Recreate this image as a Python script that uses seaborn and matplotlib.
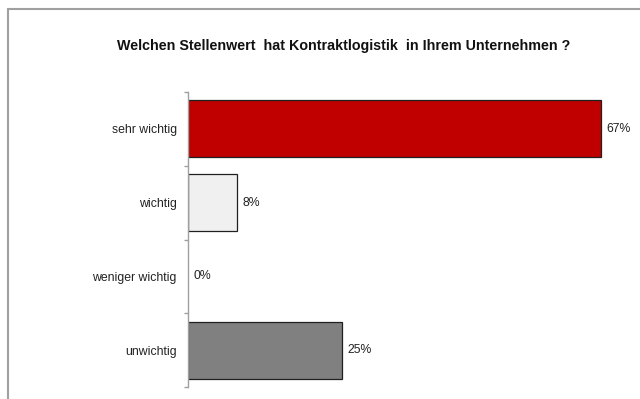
import matplotlib
matplotlib.use("Agg")
import matplotlib.pyplot as plt
from matplotlib.lines import Line2D
import seaborn as sns
import pandas as pd
import numpy as np

categories = ["sehr wichtig", "wichtig", "weniger wichtig", "unwichtig"]
values = [67, 8, 0, 25]
bar_colors = ["#C00000", "#F0F0F0", "#FFFFFF", "#808080"]
title = "Welchen Stellenwert  hat Kontraktlogistik  in Ihrem Unternehmen ?"

sns.set_theme(style="white")
plt.rcParams["font.family"] = ["Liberation Sans", "DejaVu Sans"]

df = pd.DataFrame({"Kategorie": categories, "Anteil": values})

fig = plt.figure(figsize=(6.4, 3.99), dpi=100)
ax = fig.add_axes([188 / 640, 1 - 387 / 399, 444 / 640, 295 / 399])

sns.barplot(data=df, y="Kategorie", x="Anteil", hue="Kategorie",
            palette=bar_colors, order=categories, orient="h",
            width=0.77, edgecolor="#202020", linewidth=0.9,
            saturation=1, legend=False, ax=ax)

# zero-length bars carry no outline
for patch, v in zip(ax.patches, values):
    if v == 0:
        patch.set_linewidth(0)

ax.set_xlim(0, 72)
ax.set_ylim(len(categories) - 0.5, -0.5)

for i, v in enumerate(values):
    ax.text(v + 0.9, i, f"{v}%", va="center", ha="left",
            fontsize=8.8, color="#222222")

ax.set_xlabel("")
ax.set_ylabel("")
ax.set_xticks([])
ax.tick_params(axis="y", which="major", left=False, length=0, pad=8,
               labelsize=8.8, labelcolor="#222222")
ax.set_yticks(np.arange(-0.5, len(categories)), minor=True)
ax.tick_params(axis="y", which="minor", left=True, length=3, width=1,
               color="#A0A0A0", direction="out")

for side in ["top", "right", "bottom"]:
    ax.spines[side].set_visible(False)
ax.spines["left"].set_color("#A0A0A0")
ax.spines["left"].set_linewidth(1)

fig.text(344 / 640, 1 - 46 / 399, title, ha="center", va="center",
         fontsize=10.3, fontweight="bold", color="#111111")

# outer chart frame (left and top edges)
fig.add_artist(Line2D([8 / 640, 8 / 640], [0, 1 - 9 / 399],
                      color="#A0A0A0", linewidth=1.5))
fig.add_artist(Line2D([8 / 640, 1], [1 - 9 / 399, 1 - 9 / 399],
                      color="#A0A0A0", linewidth=1.5))

fig.savefig("out.png", dpi=100)
